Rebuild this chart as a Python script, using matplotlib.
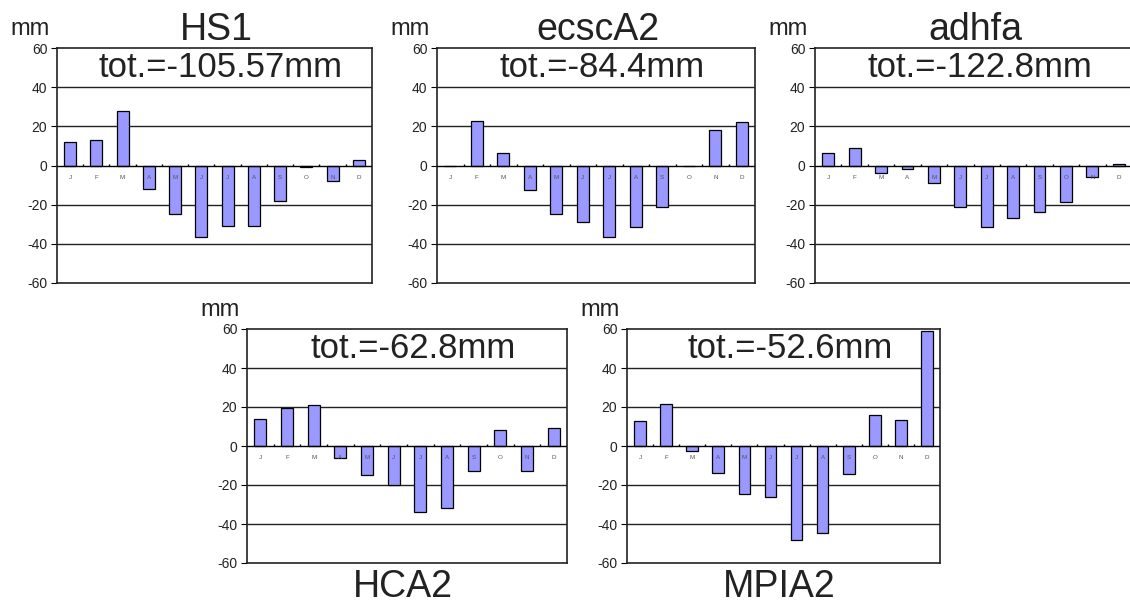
import numpy as np
import matplotlib
matplotlib.use("Agg")
import matplotlib.pyplot as plt

plt.rcParams['font.family'] = ['Liberation Sans', 'DejaVu Sans']

months = ['J', 'F', 'M', 'A', 'M', 'J', 'J', 'A', 'S', 'O', 'N', 'D']

hs1 = [12, 13, 28, -12, -25, -36.5, -31, -31, -18, -1, -8, 3]
ecsca2 = [0, 22.5, 6.5, -12.5, -25, -29, -36.5, -31.5, -21, -0.3, 18, 22.3]
adhfa = [6.6, 9, -3.8, -2, -8.7, -21.4, -31.6, -26.6, -23.8, -18.8, -6, 0.7]
hca2 = [14, 19.3, 20.9, -5.9, -14.8, -20.2, -33.6, -31.9, -12.8, 8.3, -12.8, 9.1]
mpia2 = [12.6, 21.7, -2.8, -14.1, -24.8, -26, -48, -44.6, -14.5, 15.7, 13.4, 59.1]

names = ['HS1', 'ecscA2', 'adhfa', 'HCA2', 'MPIA2']
totals = ['tot.=-105.57mm', 'tot.=-84.4mm', 'tot.=-122.8mm', 'tot.=-62.8mm', 'tot.=-52.6mm']
series = [hs1, ecsca2, adhfa, hca2, mpia2]
yticks = [-60, -40, -20, 0, 20, 40, 60]

W, H = 1130, 606
fig = plt.figure(figsize=(W / 100, H / 100), dpi=100)

# axes boxes in pixels: left, top, right, bottom
boxes = [(57, 48, 372, 283), (437, 48, 755, 283), (815, 48, 1132, 283),
         (247, 329, 567, 563), (627, 329, 940, 563)]
title_top = [True, True, True, False, False]


def fx(px):
    return px / W


def fy(py):
    return 1 - py / H


for i, (name, tot, vals) in enumerate(zip(names, totals, series)):
    l, t, r, b = boxes[i]
    ax = fig.add_axes([fx(l), fy(b), fx(r - l), (b - t) / H])
    x = np.arange(len(months))
    ax.bar(x, vals, width=0.45, color='#9999ff', edgecolor='black', linewidth=0.9, zorder=3)
    ax.set_xlim(-0.5, 11.5)
    ax.set_ylim(-60, 60)
    ax.set_yticks(yticks)
    ax.set_yticklabels([str(v) for v in yticks], fontsize=10, color='#222222')
    ax.tick_params(axis='y', length=4, width=0.8, pad=3)
    ax.set_xticks([])
    for v in [-40, -20, 20, 40]:
        ax.axhline(v, color='#222222', lw=1.0, zorder=1)
    ax.axhline(0, color='black', lw=1.0, zorder=4)
    ax.vlines(np.arange(0.5, 11.5, 1), 0, 1.0, color='black', lw=1.0, zorder=4)
    for xi, m in zip(x, months):
        ax.text(xi, -6, m, ha='center', va='center', fontsize=4.5, color='#555555', zorder=5)
    for s in ax.spines.values():
        s.set_linewidth(1.2)
        s.set_color('#222222')
    ax.text(0.52, 0.915, tot, transform=ax.transAxes, ha='center', va='center', fontsize=25,
            color='#222222', zorder=6)
    fig.text(fx(l - 47), fy(t - 13), 'mm', ha='left', va='baseline', fontsize=17, color='#222222')
    cx = (l + r) / 2
    if title_top[i]:
        fig.text(fx(cx + 2), fy(40), name, ha='center', va='baseline', fontsize=27, color='#222222')
    else:
        fig.text(fx(cx - 4), fy(597), name, ha='center', va='baseline', fontsize=27, color='#222222')

fig.savefig('out.png', dpi=100)
